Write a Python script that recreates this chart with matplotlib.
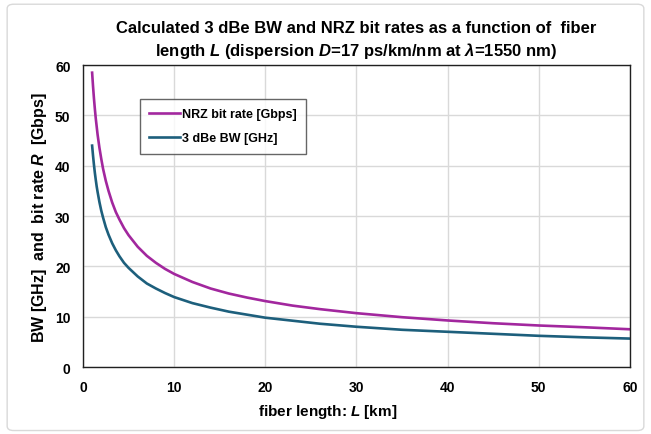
import matplotlib
matplotlib.use('Agg')
import matplotlib.pyplot as plt
from matplotlib.patches import FancyBboxPatch

plt.rcParams['font.family'] = ['Liberation Sans', 'DejaVu Sans']
plt.rcParams['font.sans-serif'] = ['Liberation Sans']
plt.rcParams['mathtext.fontset'] = 'custom'
plt.rcParams['mathtext.bfit'] = 'Liberation Sans:italic:bold'
plt.rcParams['mathtext.it'] = 'Liberation Sans:italic'

# fiber length L [km]
length_km = [1, 1.1, 1.2, 1.3, 1.4, 1.5, 1.6, 1.8, 2, 2.2, 2.5, 2.8, 3.2, 3.6,
             4, 4.5, 5, 6, 7, 8, 9, 10, 12, 14, 16, 18, 20, 23, 26, 30, 35,
             40, 45, 50, 55, 60]
# NRZ bit rate [Gbps]
nrz_rate = [58.5, 55.8, 53.4, 51.3, 49.4, 47.8, 46.2, 43.6, 41.4, 39.4, 37.0,
            35.0, 32.7, 30.8, 29.3, 27.6, 26.2, 23.9, 22.1, 20.7, 19.5, 18.5,
            16.9, 15.6, 14.6, 13.8, 13.1, 12.2, 11.5, 10.7, 9.9, 9.25, 8.7,
            8.25, 7.9, 7.5]
# 3 dBe bandwidth [GHz]
bw_3db = [44.0, 42.0, 40.2, 38.6, 37.2, 35.9, 34.8, 32.8, 31.1, 29.7, 27.8,
          26.3, 24.6, 23.2, 22.0, 20.7, 19.7, 18.0, 16.6, 15.6, 14.7, 13.9,
          12.7, 11.8, 11.0, 10.4, 9.8, 9.2, 8.6, 8.0, 7.4, 7.0, 6.6, 6.2,
          5.9, 5.65]

fig = plt.figure(figsize=(6.51, 4.35), dpi=100)
fig.patches.append(FancyBboxPatch((0.011, 0.008), 0.978, 0.98,
                                  boxstyle='round,pad=0,rounding_size=0.01',
                                  transform=fig.transFigure, fill=False,
                                  edgecolor='#d9d9d9', linewidth=1))
ax = fig.add_axes([0.1275, 0.154, 0.8402, 0.694])

ax.plot(length_km, nrz_rate, color='#a2279e', linewidth=1.9, label='NRZ bit rate [Gbps]')
ax.plot(length_km, bw_3db, color='#1d5f7c', linewidth=1.9, label='3 dBe BW [GHz]')

ax.set_xlim(0, 60)
ax.set_ylim(0, 60)
ax.set_xticks(range(0, 61, 10))
ax.set_yticks(range(0, 61, 10))
ax.grid(color='#d9d9d9', linewidth=1)
ax.set_axisbelow(True)
for s in ax.spines.values():
    s.set_color('#202020')
    s.set_linewidth(1)
ax.tick_params(length=0, pad=9, labelsize=10)
for t in ax.get_xticklabels() + ax.get_yticklabels():
    t.set_fontweight('bold')

ax.set_title('Calculated 3 dBe BW and NRZ bit rates as a function of  fiber\n'
             'length $\\mathbfit{L}$ (dispersion $\\mathbfit{D}$=17 ps/km/nm at $\\mathbfit{\\lambda}$=1550 nm)',
             fontsize=12, fontweight='bold', pad=7.5, linespacing=1.34)
ax.set_xlabel('fiber length: $\\mathbfit{L}$ [km]', fontsize=11, fontweight='bold')
ax.xaxis.set_label_coords(0.448, -0.115)
ax.set_ylabel('BW [GHz]  and  bit rate $\\mathbfit{R}$  [Gbps]', fontsize=11.5, fontweight='bold')
ax.yaxis.set_label_coords(-0.062, 0.5)

leg = ax.legend(loc='upper left', bbox_to_anchor=(0.092, 0.91), frameon=True, fancybox=False,
                edgecolor='#404040', handlelength=2.5, borderpad=0.75,
                labelspacing=1.0, handletextpad=0.15,
                prop={'weight': 'bold', 'size': 9})
leg.get_frame().set_linewidth(1)

fig.savefig('out.png', dpi=100)
